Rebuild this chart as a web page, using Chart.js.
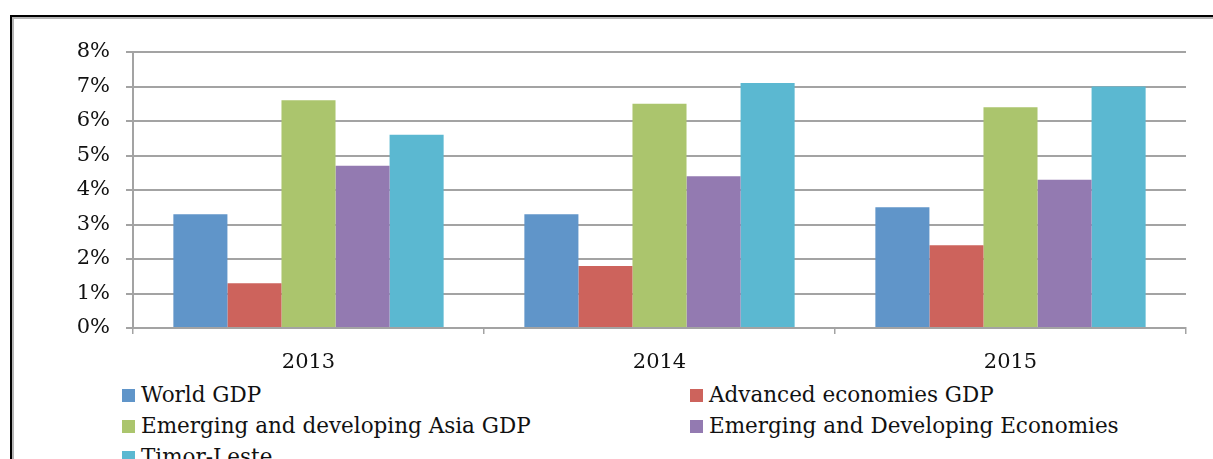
<!DOCTYPE html>
<html>
<head>
<meta charset="utf-8">
<script src="https://cdn.jsdelivr.net/npm/chart.js@4"></script>
<style>
  html, body { margin: 0; padding: 0; background: #fff; overflow: hidden; width: 1213px; height: 459px; }
  .frame {
    position: absolute; left: 10px; top: 15px; width: 1400px; height: 600px;
    border: 2px solid #000; box-shadow: inset 0 0 0 2px #b4b4b4;
  }
  #wrap { position: absolute; left: 0; top: 0; width: 1213px; height: 375px; }
  .legend {
    position: absolute; left: 122px; top: 379px;
    display: grid; grid-template-columns: 568px 530px; row-gap: 0;
    font-family: "DejaVu Serif", serif; font-size: 21.5px; color: #111;
  }
  .legend div { height: 31px; line-height: 31px; white-space: nowrap; }
  .legend span.box { display: inline-block; width: 13px; height: 13px; margin-right: 6px; vertical-align: 0px; }
</style>
</head>
<body>
<div class="frame"></div>
<div id="wrap"><canvas id="chart"></canvas></div>
<div class="legend" id="legend"></div>
<script>
  // Datos (porcentaje de crecimiento)
  const years = ["2013", "2014", "2015"];
  const worldGdp = [3.3, 3.3, 3.5];
  const advancedGdp = [1.3, 1.8, 2.4];
  const asiaGdp = [6.6, 6.5, 6.4];
  const emergingEconomies = [4.7, 4.4, 4.3];
  const timorLeste = [5.6, 7.1, 7.0];
  const yTicks = [0, 1, 2, 3, 4, 5, 6, 7, 8];

  const seriesNames = [
    "World GDP",
    "Advanced economies GDP",
    "Emerging and developing Asia GDP",
    "Emerging and Developing Economies",
    "Timor-Leste",
  ];
  const seriesData = [worldGdp, advancedGdp, asiaGdp, emergingEconomies, timorLeste];
  const colors = ["#6095c9", "#cd635c", "#abc56d", "#937ab1", "#5bb8d1"];

  const gridColor = "#a3a3a3";
  const font = { family: "DejaVu Serif", size: 21 };

  const ctx = document.getElementById("chart").getContext("2d");
  const chart = new Chart(ctx, {
    type: "bar",
    data: {
      labels: years,
      datasets: seriesNames.map((name, i) => ({
        label: name,
        data: seriesData[i],
        backgroundColor: colors[i],
        borderWidth: 0,
        categoryPercentage: 0.77,
        barPercentage: 1.0,
      })),
    },
    options: {
      responsive: true,
      maintainAspectRatio: false,
      animation: false,
      layout: { padding: { top: 52, right: 27, left: 0, bottom: 0 } },
      plugins: {
        legend: { display: false },
        tooltip: { enabled: false },
      },
      scales: {
        x: {
          grid: { offset: true, drawOnChartArea: false, drawTicks: true, tickLength: 6, color: gridColor, lineWidth: 1.5 },
          border: { display: true, color: gridColor, width: 2 },
          ticks: { font: font, color: "#111", padding: 16 },
          afterFit: (scale) => { scale.height = 47; },
        },
        y: {
          min: 0,
          max: 8,
          afterBuildTicks: (scale) => { scale.ticks = yTicks.map((v) => ({ value: v })); },
          grid: { color: gridColor, lineWidth: 2, drawTicks: true, tickLength: 7 },
          border: { display: true, color: gridColor, width: 2 },
          ticks: { font: font, color: "#111", padding: 16, callback: (v) => v + "%" },
          afterFit: (scale) => { scale.width = 133; },
        },
      },
    },
  });

  // Leyenda en dos columnas
  const legend = document.getElementById("legend");
  chart.data.datasets.forEach((ds) => {
    const item = document.createElement("div");
    const box = document.createElement("span");
    box.className = "box";
    box.style.background = ds.backgroundColor;
    item.appendChild(box);
    item.appendChild(document.createTextNode(ds.label));
    legend.appendChild(item);
  });
</script>
</body>
</html>
